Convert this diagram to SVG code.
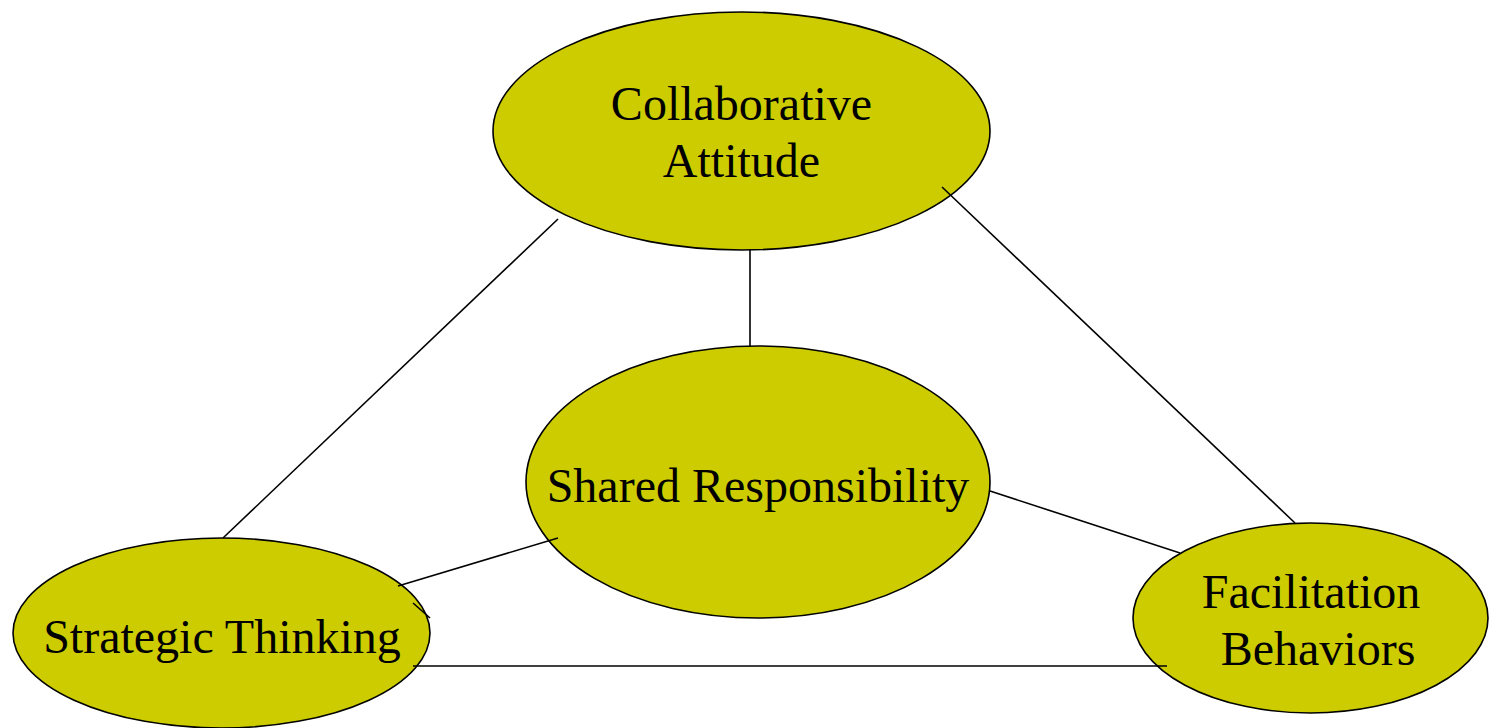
<svg xmlns="http://www.w3.org/2000/svg" width="1489" height="728" viewBox="0 0 1489 728">
<style>
.node ellipse{fill:#CCCC00;stroke:#000;stroke-width:1.6}
.node text{font-family:"Liberation Serif","Times New Roman",serif;font-size:48px;fill:#000;text-anchor:middle}
#connectors line{stroke:#000;stroke-width:1.6}
</style>
<rect width="1489" height="728" fill="#fff"/>
<g id="collaborative-attitude" class="node">
<ellipse cx="741.5" cy="131" rx="248.5" ry="119"/>
<text x="741.5" y="120">Collaborative</text>
<text x="741.5" y="177">Attitude</text>
</g>
<g id="shared-responsibility" class="node">
<ellipse cx="758" cy="482" rx="232" ry="136"/>
<text x="758" y="502">Shared Responsibility</text>
</g>
<g id="strategic-thinking" class="node">
<ellipse cx="221.5" cy="633" rx="208.5" ry="95"/>
<text x="222" y="653">Strategic Thinking</text>
</g>
<g id="facilitation-behaviors" class="node">
<ellipse cx="1310.5" cy="618" rx="177.5" ry="95"/>
<text x="1311" y="608">Facilitation</text>
<text x="1318" y="665">Behaviors</text>
</g>
<g id="connectors">
<line x1="558" y1="219" x2="223" y2="538"/>
<line x1="750" y1="250" x2="750" y2="346"/>
<line x1="942" y1="187" x2="1295" y2="523"/>
<line x1="990" y1="491" x2="1180" y2="553"/>
<line x1="558" y1="538" x2="398" y2="586"/>
<line x1="413" y1="603" x2="430" y2="618"/>
<line x1="413" y1="666" x2="1167" y2="666"/>
</g>
</svg>
